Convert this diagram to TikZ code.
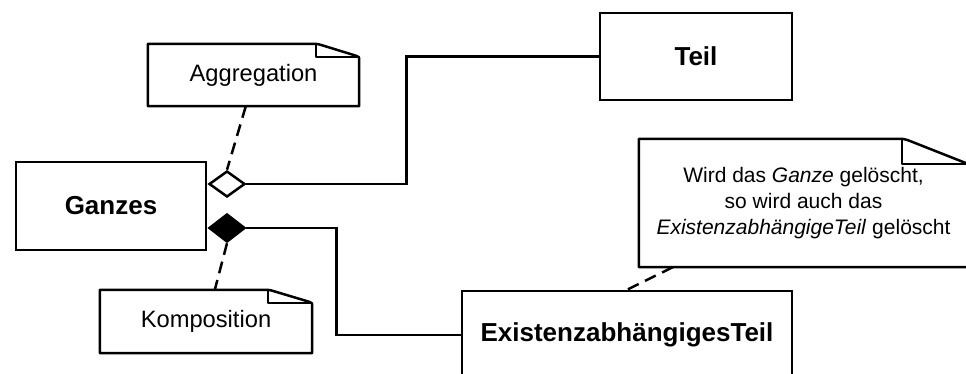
\documentclass[tikz,border=0pt]{standalone}
\usepackage{fontspec}
\setmainfont{Liberation Sans}
\usetikzlibrary{shapes.geometric,calc}
\tikzset{
  cls/.style={draw,line width=2.5pt,inner sep=0pt,font=\fontsize{26}{30}\selectfont\bfseries},
  notenode/.style={inner sep=0pt,font=\fontsize{23.7}{28}\selectfont},
  bignote/.style={inner sep=0pt,align=center,font=\fontsize{21}{26}\selectfont},
  notestyle/.style={line width=2.5pt,line join=round},
  conn/.style={line width=2.5pt},
  dashconn/.style={line width=2.5pt,dash pattern=on 12pt off 7pt},
  diam/.style={diamond,draw,line width=2.5pt,inner sep=0pt,minimum width=36pt,minimum height=26pt},
}
\newcommand\drawnote[3]{%
  \draw[notestyle] (#1.north west) -- ($(#1.north east)+(-#2-6,0)$)
    .. controls ($(#1.north east)+(-#2+1,0)$) .. ($(#1.north east)+(-#2+6,1.5)$)
    -- ($(#1.north east)+(-3,#3-1)$)
    .. controls ($(#1.north east)+(0,#3)$) .. ($(#1.north east)+(0,#3+4)$)
    -- (#1.south east) -- (#1.south west) -- cycle;
  \draw[notestyle] ($(#1.north east)+(-#2,0)$) -- ($(#1.north east)+(-#2,#3)$) -- ($(#1.north east)+(0,#3)$);
}
\begin{document}
\begin{tikzpicture}[x=1pt,y=-1pt]
\useasboundingbox (0,0) rectangle (966,374);
% classes
\node[cls,minimum width=190pt,minimum height=88pt] (ganzes) at (111,206) {Ganzes};
\node[cls,minimum width=192pt,minimum height=87pt] (teil) at (696,56.5) {Teil};
\node[cls,minimum width=330pt,minimum height=88pt] (exist) at (627,335) {ExistenzabhängigesTeil};
% notes
\node[notenode,minimum width=211pt,minimum height=62pt] (agg) at (253.5,75) {Aggregation};
\node[notenode,minimum width=212pt,minimum height=63pt] (komp) at (206,321.5) {Komposition};
\node[bignote,minimum width=329pt,minimum height=128pt] (note) at (803.5,203)
  {Wird das \textit{Ganze} gelöscht,\\so wird auch das\\\textit{ExistenzabhängigeTeil} gelöscht};
\drawnote{agg}{43}{13}
\drawnote{komp}{44}{13}
\drawnote{note}{66}{25}
% diamonds
\node[diam,fill=white] (dA) at (227,184) {};
\node[diam,fill=black,minimum height=28pt] (dC) at (227,228) {};
% connectors
\draw[conn] (dA.east) -- ++(160,0) |- (teil.west);
\draw[conn] (dC.east) -- ++(90,0) |- (exist.west);
\draw[dashconn] ($(agg.south west)+(98,0)$) -- (dA.north);
\draw[dashconn] (dC.south) -- ($(komp.north west)+(115,0)$);
\draw[dashconn] ($(note.south west)+(34,0)$) -- (exist.north);
\end{tikzpicture}
\end{document}
